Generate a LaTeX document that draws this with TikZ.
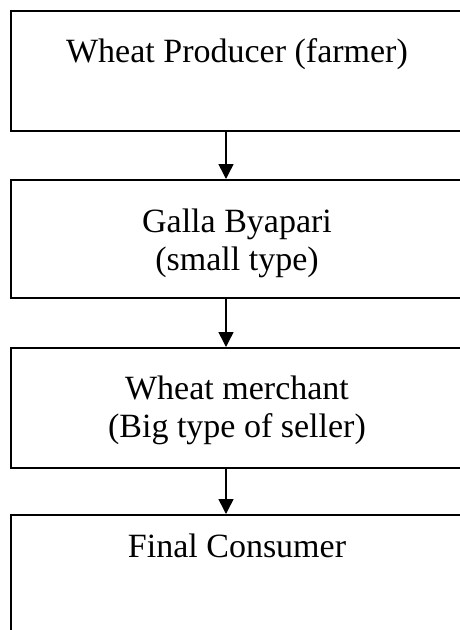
\documentclass[tikz,border=0pt]{standalone}
\usepackage{fontspec}
\setmainfont{Liberation Serif}
\usetikzlibrary{arrows.meta}
\begin{document}
\begin{tikzpicture}[x=1pt,y=1pt,
  stagebox/.style={draw=black, line width=1.5pt, minimum width=454pt, minimum height=#1, anchor=north west, inner sep=0pt},
  stagetext/.style={font=\fontsize{34}{38}\selectfont, align=center, inner sep=0pt, anchor=base},
  flow/.style={draw=black, line width=1.5pt, -{Triangle[length=15pt,width=15pt]}}]
\useasboundingbox (0,0) rectangle (459,-630);
\node[stagebox=120pt] (b1) at (10,-10) {};
\node[stagebox=118pt] (b2) at (10,-179) {};
\node[stagebox=120pt] (b3) at (10,-347) {};
\node[stagebox=140pt] (b4) at (10,-514) {};
\node[stagetext] (t1) at (237,-62) {Wheat Producer (farmer)};
\node[stagetext] (t2) at (237,-270) {Galla Byapari\\(small type)};
\node[stagetext] (t3) at (237,-437) {Wheat merchant\\(Big type of seller)};
\node[stagetext] (t4) at (237,-557) {Final Consumer};
\coordinate (ax) at (226,0);
\draw[flow] (b1.south -| ax) -- (b2.north -| ax);
\draw[flow] (b2.south -| ax) -- (b3.north -| ax);
\draw[flow] (b3.south -| ax) -- (b4.north -| ax);
\end{tikzpicture}
\end{document}
